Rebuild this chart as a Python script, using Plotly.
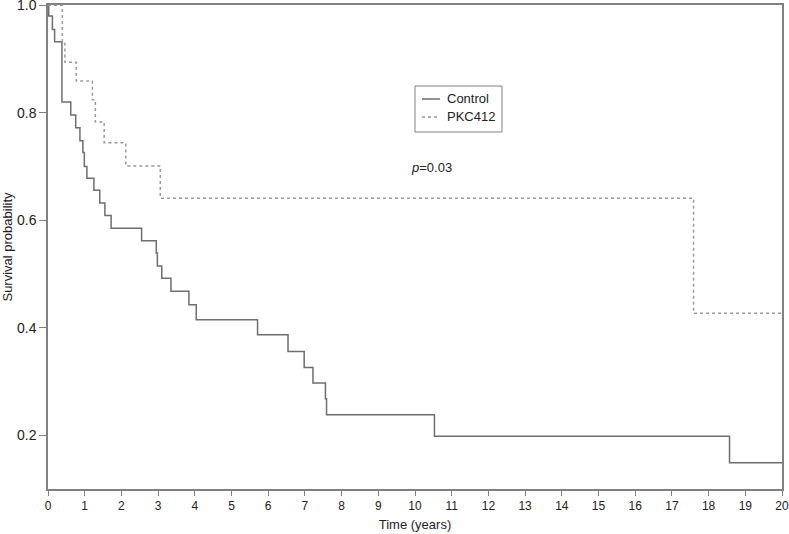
import plotly.graph_objects as go

# Kaplan-Meier step data
control_time = [0, 0.02, 0.12, 0.18, 0.38, 0.62, 0.755, 0.87, 0.95, 0.99, 1.06, 1.25, 1.41,
                1.55, 1.72, 2.55, 2.95, 2.98, 3.1, 3.35, 3.84, 4.04, 5.71, 6.54, 6.98,
                7.22, 7.56, 7.59, 10.53, 18.57, 20]
control_surv = [1.0, 0.98, 0.955, 0.932, 0.82, 0.796, 0.772, 0.748, 0.726, 0.70, 0.678, 0.656,
                0.632, 0.609, 0.585, 0.562, 0.539, 0.515, 0.492, 0.468, 0.443, 0.415, 0.387,
                0.356, 0.326, 0.297, 0.268, 0.238, 0.198, 0.149, 0.149]

pkc_time = [0, 0.39, 0.46, 0.77, 1.21, 1.29, 1.53, 2.12, 3.06, 17.59, 20]
pkc_surv = [1.0, 0.929, 0.894, 0.859, 0.824, 0.783, 0.744, 0.701, 0.641, 0.427, 0.427]

series_names = ["Control", "PKC412"]
x_ticks = list(range(0, 21))
y_ticks = [0.2, 0.4, 0.6, 0.8, 1.0]

FONT = "Liberation Sans, Arial, sans-serif"
AXIS_COLOR = "#808080"
CTRL_COLOR = "#6e6e6e"
PKC_COLOR = "#9a9a9a"

fig = go.Figure()
fig.add_trace(go.Scatter(
    x=control_time, y=control_surv, mode="lines", name=series_names[0],
    line=dict(shape="hv", color=CTRL_COLOR, width=1.5),
))
fig.add_trace(go.Scatter(
    x=pkc_time, y=pkc_surv, mode="lines", name=series_names[1],
    line=dict(shape="hv", color=PKC_COLOR, width=1.5, dash="dot"),
))

fig.add_annotation(
    x=9.83, y=0.699, xref="x", yref="y", text="<i>p</i>=0.03", showarrow=False,
    xanchor="left", yanchor="middle", font=dict(family=FONT, size=13, color="#222"),
)

# Compact legend box (as in the reference)
fig.add_shape(type="rect", xref="paper", yref="paper", x0=0.5, x1=0.6185, y0=0.7376, y1=0.8326,
              line=dict(color="#808080", width=1), fillcolor="white", layer="above")
legend_rows = [(0.8058, CTRL_COLOR, "solid"), (0.7686, PKC_COLOR, "dot")]
for (ly, col, dash), name in zip(legend_rows, series_names):
    fig.add_shape(type="line", xref="paper", yref="paper", x0=0.5095, x1=0.534, y0=ly, y1=ly,
                  line=dict(color=col, width=1.5, dash=dash), layer="above")
    fig.add_annotation(x=0.541, y=ly, xref="paper", yref="paper", text=name, showarrow=False,
                       xanchor="left", yanchor="middle",
                       font=dict(family=FONT, size=13, color="#222"))

fig.update_layout(
    width=789, height=534,
    margin=dict(l=48, r=7, t=5, b=45, autoexpand=False),
    paper_bgcolor="white", plot_bgcolor="white",
    font=dict(family=FONT, color="#222"),
    showlegend=False,
    xaxis=dict(
        range=[0, 20], tickvals=x_ticks, ticks="outside", ticklen=5, tickcolor=AXIS_COLOR,
        showline=True, linecolor=AXIS_COLOR, linewidth=1.5, mirror=True,
        showgrid=False, zeroline=False, automargin=False, ticklabeloverflow="allow",
        tickfont=dict(family=FONT, size=12, color="#222"),
        title=dict(text="Time (years)", font=dict(family=FONT, size=13, color="#222"), standoff=8),
    ),
    yaxis=dict(
        range=[0.1, 1.0005], tickvals=y_ticks, tickformat=".1f", ticks="outside", ticklen=7,
        tickcolor=AXIS_COLOR,
        showline=True, linecolor=AXIS_COLOR, linewidth=1.5, mirror=True,
        showgrid=False, zeroline=False, automargin=False, ticklabeloverflow="allow",
        tickfont=dict(family=FONT, size=14, color="#222"),
        title=dict(text="Survival probability", font=dict(family=FONT, size=13, color="#222"), standoff=2),
    ),
)

fig.write_html("out.html", post_script="document.body.style.margin='0';",
               config={"displayModeBar": False})
